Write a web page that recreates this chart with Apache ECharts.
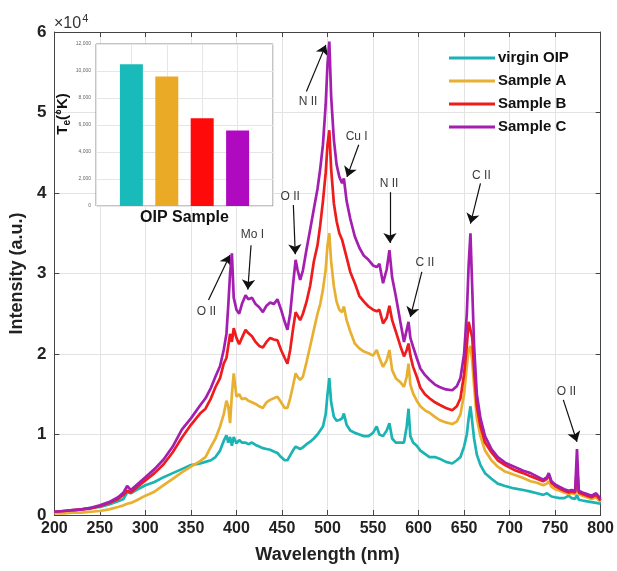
<!DOCTYPE html>
<html>
<head>
<meta charset="utf-8">
<script src="https://cdn.jsdelivr.net/npm/echarts@6/dist/echarts.min.js"></script>
<style>html,body{margin:0;padding:0;background:#fff}#c{width:617px;height:571px}</style>
</head>
<body>
<div id="c"></div>
<script>
// Wavelength grid (nm)
const wavelength = [
200,210,220,230,240,250,260,270,276,280,
284,290,300,310,320,330,340,350,360,366,
372,377,382,386,389,391,393,395,397,400,
403,406,410,413,417,421,425,429,433,437,
441,445,449,453,456,459,462,465,467,470,
473,477,481,485,489,492,495,498,500,502,
504,507,510,513,516,518,521,525,530,535,
540,545,550,554,557,561,565,568,571,575,
580,584,587,589,591,594,598,602,607,612,
618,623,630,637,642,646,650,653,655,657,
659,661,664,668,673,680,687,695,705,715,
723,730,737,741,743,746,750,755,760,765,
768,772,774,776,780,785,790,795,800];

// Intensities in units of 10^4 a.u.
const virginOIP = [
0.03,0.04,0.05,0.07,0.09,0.10,0.13,0.17,0.20,0.28,
0.27,0.31,0.37,0.41,0.47,0.52,0.57,0.62,0.64,0.66,
0.68,0.72,0.80,0.92,0.99,0.90,0.97,0.86,0.97,0.89,
0.93,0.90,0.90,0.88,0.90,0.87,0.85,0.83,0.82,0.81,
0.79,0.77,0.72,0.68,0.68,0.74,0.80,0.85,0.84,0.82,
0.84,0.88,0.91,0.95,1.00,1.05,1.10,1.25,1.50,1.70,
1.40,1.22,1.17,1.18,1.20,1.26,1.12,1.05,1.02,1.00,
0.98,0.98,1.02,1.10,1.00,0.98,1.05,1.14,0.95,0.90,
0.90,0.90,1.10,1.32,0.98,0.90,0.86,0.80,0.76,0.72,
0.72,0.70,0.66,0.64,0.68,0.72,0.85,1.00,1.20,1.35,
1.15,0.95,0.75,0.62,0.52,0.45,0.39,0.36,0.33,0.31,
0.29,0.27,0.25,0.27,0.29,0.23,0.22,0.21,0.21,0.24,
0.21,0.20,0.25,0.19,0.18,0.17,0.16,0.15,0.14];

const sampleA = [
0.02,0.02,0.03,0.03,0.04,0.05,0.07,0.10,0.12,0.14,
0.15,0.18,0.24,0.29,0.37,0.45,0.53,0.60,0.67,0.72,
0.85,0.95,1.10,1.25,1.42,1.35,1.14,1.50,1.76,1.47,
1.50,1.44,1.45,1.42,1.40,1.38,1.35,1.33,1.40,1.43,
1.45,1.47,1.40,1.33,1.33,1.45,1.60,1.76,1.72,1.68,
1.72,1.90,2.10,2.30,2.50,2.62,2.80,3.05,3.35,3.50,
3.15,2.84,2.65,2.55,2.52,2.59,2.42,2.28,2.13,2.07,
2.03,2.01,1.98,2.05,1.95,1.84,1.92,2.05,1.80,1.70,
1.65,1.59,1.72,1.88,1.62,1.51,1.42,1.35,1.30,1.27,
1.22,1.18,1.15,1.13,1.16,1.25,1.50,1.85,2.05,2.10,
1.90,1.60,1.20,0.98,0.80,0.68,0.60,0.54,0.50,0.46,
0.42,0.40,0.37,0.39,0.42,0.35,0.32,0.30,0.28,0.26,
0.27,0.26,0.38,0.26,0.24,0.22,0.20,0.22,0.16];

const sampleB = [
0.04,0.05,0.06,0.07,0.08,0.11,0.15,0.20,0.25,0.30,
0.28,0.34,0.43,0.52,0.63,0.78,0.96,1.12,1.26,1.32,
1.45,1.59,1.70,1.88,1.95,2.10,2.25,2.15,2.32,2.20,
2.12,2.20,2.30,2.26,2.22,2.15,2.10,2.08,2.15,2.20,
2.18,2.17,2.05,1.95,1.88,2.05,2.30,2.52,2.48,2.42,
2.50,2.65,2.85,3.15,3.35,3.60,3.90,4.25,4.60,4.78,
4.30,3.87,3.65,3.50,3.42,3.44,3.20,3.02,2.88,2.72,
2.65,2.59,2.55,2.53,2.55,2.38,2.45,2.60,2.42,2.28,
2.10,1.97,2.05,2.13,1.98,1.84,1.72,1.58,1.50,1.45,
1.40,1.37,1.33,1.30,1.35,1.45,1.75,2.10,2.40,2.42,
2.20,1.80,1.35,1.10,0.90,0.78,0.68,0.62,0.56,0.52,
0.48,0.45,0.42,0.45,0.50,0.40,0.36,0.33,0.30,0.28,
0.29,0.28,0.60,0.28,0.26,0.24,0.22,0.25,0.18];

const sampleC = [
0.04,0.05,0.06,0.07,0.09,0.12,0.16,0.22,0.28,0.36,
0.31,0.37,0.47,0.57,0.69,0.85,1.06,1.20,1.36,1.45,
1.58,1.72,1.85,2.05,2.25,2.60,3.00,3.25,2.70,2.55,
2.50,2.62,2.73,2.68,2.70,2.62,2.58,2.52,2.60,2.64,
2.62,2.68,2.55,2.40,2.30,2.50,2.85,3.17,3.05,2.92,
3.04,3.30,3.55,3.80,4.05,4.30,4.60,5.10,5.60,5.88,
5.20,4.66,4.35,4.20,4.12,4.18,3.90,3.68,3.46,3.32,
3.22,3.17,3.10,3.08,3.12,2.88,3.05,3.29,2.95,2.72,
2.40,2.15,2.30,2.40,2.20,2.09,1.95,1.82,1.74,1.68,
1.62,1.59,1.56,1.55,1.60,1.70,2.00,2.50,3.10,3.50,
2.80,2.10,1.50,1.20,0.98,0.82,0.72,0.65,0.60,0.55,
0.52,0.48,0.44,0.47,0.52,0.42,0.38,0.35,0.32,0.30,
0.31,0.30,0.82,0.30,0.28,0.26,0.24,0.27,0.20];

const seriesNames = ['virgin OIP', 'Sample A', 'Sample B', 'Sample C'];

// Inset: electron temperature per sample
const insetSamples = [1, 2, 3, 4];
const electronTemp = [10500, 9600, 6500, 5600];

// Peak annotations (data coordinates: nm, 10^4 a.u.)
const annotationLabels = ['O II', 'Mo I', 'O II', 'N II', 'Cu I', 'N II', 'C II', 'C II', 'O II'];
const annotationTextAt = [[367,2.53],[417.5,3.48],[459,3.95],[478.6,5.13],[532,4.70],[567.5,4.12],[607,3.14],[669,4.22],[762.5,1.53]];
const arrowFrom = [[369.3,2.67],[416,3.35],[462.5,3.85],[476.8,5.26],[534.3,4.60],[568.6,4.01],[603.6,3.02],[668,4.12],[759,1.43]];
const arrowTo = [[392.9,3.23],[412.5,2.80],[464.6,3.24],[498.2,5.84],[521.4,4.20],[568.6,3.38],[591,2.46],[657,3.62],[774,0.91]];

const lineColors = ['#1BB3B3', '#E8B030', '#EE1C1C', '#A41EB0'];
const barColors = ['#19BABA', '#EBAA26', '#FF0A0A', '#B00AC0'];
const FONT = '"Liberation Sans", Arial, sans-serif';

const pairs = arr => wavelength.map((w, i) => [w, arr[i]]);
const allSeries = [virginOIP, sampleA, sampleB, sampleC];

const series = allSeries.map((arr, k) => ({
  name: seriesNames[k],
  type: 'line',
  xAxisIndex: 0, yAxisIndex: 0,
  data: pairs(arr),
  showSymbol: false,
  symbol: 'none',
  smooth: false,
  lineStyle: { color: lineColors[k], width: 2.7 },
  itemStyle: { color: lineColors[k] },
  z: 2 + k
}));

// annotations on top
series.push({
  type: 'line', xAxisIndex: 0, yAxisIndex: 0, data: [], silent: true, z: 10,
  markLine: {
    silent: true, animation: false,
    symbol: ['none', 'arrow'], symbolSize: 10,
    lineStyle: { color: '#111', width: 1.2, type: 'solid' },
    label: { show: false },
    data: arrowFrom.map((p, i) => [{ coord: p }, { coord: arrowTo[i] }])
  },
  markPoint: {
    silent: true, animation: false,
    symbol: 'rect', symbolSize: 1,
    itemStyle: { color: 'rgba(0,0,0,0)' },
    label: { show: true, position: 'inside', color: '#3a3a3a', fontSize: 12, fontFamily: FONT,
      formatter: p => p.name },
    data: annotationTextAt.map((p, i) => ({ name: annotationLabels[i], coord: p }))
  }
});

// inset bars
series.push({
  type: 'bar', xAxisIndex: 2, yAxisIndex: 2,
  data: insetSamples.map((s, i) => ({ value: [s, electronTemp[i]], itemStyle: { color: barColors[i] } })),
  barWidth: 23, z: 20
});

const chart = echarts.init(document.getElementById('c'), null, { renderer: 'canvas' });
chart.setOption({
  animation: false,
  backgroundColor: '#fff',
  textStyle: { fontFamily: FONT },
  title: {
    text: '{a|×10}{b|4}', left: 49, top: 8,
    textStyle: { fontWeight: 'normal', rich: {
      a: { fontSize: 16, color: '#333', fontWeight: 'normal', fontFamily: FONT },
      b: { fontSize: 11, color: '#333', fontWeight: 'normal', fontFamily: FONT, padding: [0, 0, 10, 1] }
    } }
  },
  legend: {
    orient: 'vertical', left: 444, top: 44,
    itemWidth: 46, itemHeight: 3, itemGap: 5,
    icon: 'rect',
    data: seriesNames,
    textStyle: { fontSize: 15, fontWeight: 'bold', color: '#111', fontFamily: FONT, lineHeight: 18, padding: [0, 0, 0, -2] }
  },
  grid: [
    { left: 45, right: 12, top: 32, bottom: 56, show: false },
    { left: 96, top: 44, width: 177, height: 162, show: true, backgroundColor: '#fff', borderColor: '#8a8a8a', borderWidth: 1, z: 6 }
  ],
  xAxis: [
    { type: 'value', gridIndex: 0, min: 200, max: 800, interval: 50,
      axisLine: { show: true, onZero: false, lineStyle: { color: '#444', width: 1 } },
      axisTick: { show: true, inside: true, length: 5, lineStyle: { color: '#444' } },
      axisLabel: { fontSize: 16, fontWeight: 'bold', color: '#222', margin: 6, fontFamily: FONT },
      splitLine: { show: true, lineStyle: { color: '#e3e3e3', width: 1 } },
      name: 'Wavelength (nm)', nameLocation: 'middle', nameGap: 31,
      nameTextStyle: { fontSize: 18, fontWeight: 'bold', color: '#222', fontFamily: FONT } },
    { type: 'value', gridIndex: 0, position: 'top', min: 200, max: 800, interval: 50,
      axisLine: { show: true, onZero: false, lineStyle: { color: '#444', width: 1 } },
      axisTick: { show: true, inside: true, length: 5, lineStyle: { color: '#444' } },
      axisLabel: { show: false }, splitLine: { show: false } },
    { type: 'value', gridIndex: 1, min: 0, max: 5, interval: 1,
      axisLine: { show: false }, axisTick: { show: false }, axisLabel: { show: false },
      splitLine: { show: true, lineStyle: { color: '#e6e6e6' } }, z: 7,
      name: 'OIP Sample', nameLocation: 'middle', nameGap: 4,
      nameTextStyle: { fontSize: 16, fontWeight: 'bold', color: '#111', fontFamily: FONT } }
  ],
  yAxis: [
    { type: 'value', gridIndex: 0, min: 0, max: 6, interval: 1,
      axisLine: { show: true, onZero: false, lineStyle: { color: '#444', width: 1 } },
      axisTick: { show: true, inside: true, length: 5, lineStyle: { color: '#444' } },
      axisLabel: { fontSize: 17, fontWeight: 'bold', color: '#222', margin: 8, fontFamily: FONT },
      splitLine: { show: true, lineStyle: { color: '#e3e3e3', width: 1 } },
      name: 'Intensity (a.u.)', nameLocation: 'middle', nameGap: 24,
      nameTextStyle: { fontSize: 18, fontWeight: 'bold', color: '#222', fontFamily: FONT } },
    { type: 'value', gridIndex: 0, position: 'right', min: 0, max: 6, interval: 1,
      axisLine: { show: true, onZero: false, lineStyle: { color: '#444', width: 1 } },
      axisTick: { show: true, inside: true, length: 5, lineStyle: { color: '#444' } },
      axisLabel: { show: false }, splitLine: { show: false } },
    { type: 'value', gridIndex: 1, min: 0, max: 12000, interval: 2000, z: 7,
      axisLine: { show: false }, axisTick: { show: false },
      axisLabel: { fontSize: 5, color: '#666', margin: 5, fontFamily: FONT },
      splitLine: { show: true, lineStyle: { color: '#e6e6e6' } },
      name: '{t|T}{s|e}{t|(°K)}', nameLocation: 'middle', nameGap: 3, nameRotate: 90,
      nameTextStyle: { padding: [0, 0, 0, 22], rich: {
        t: { fontSize: 15, fontWeight: 'bold', color: '#111', fontFamily: FONT },
        s: { fontSize: 10, fontWeight: 'bold', color: '#111', fontFamily: FONT, padding: [8, 0, 0, 0] }
      } } }
  ],
  series: series
});
</script>
</body>
</html>
